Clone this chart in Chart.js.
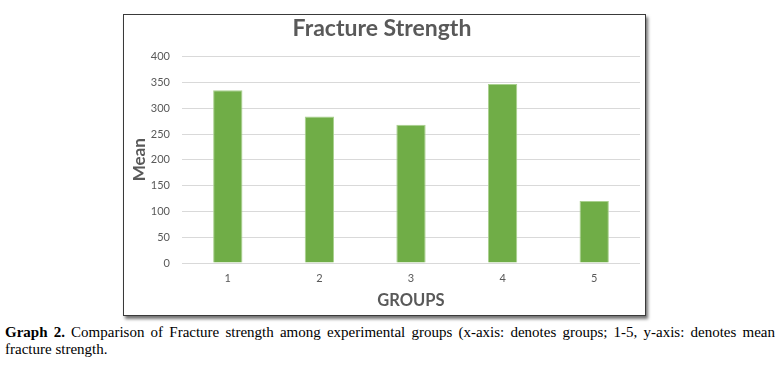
<!DOCTYPE html>
<html>
<head>
<meta charset="utf-8">
<script src="https://cdn.jsdelivr.net/npm/chart.js@4.4.0/dist/chart.umd.min.js"></script>
<style>
    body { margin: 0; background: #fff; width: 784px; height: 368px; position: relative; overflow: hidden; }
    #box {
        position: absolute; left: 123px; top: 14px; width: 521px; height: 300px;
        border: 1px solid #3a3a3a; background: #fff;
        box-shadow: 2px 3px 3px rgba(0, 0, 0, 0.55);
    }
    #caption {
        position: absolute; left: 5px; top: 324px; width: 770px;
        font-family: "Liberation Serif", serif; font-size: 15px; line-height: 17px;
        text-align: justify; color: #000;
    }
</style>
</head>
<body>
<div id="box"><canvas id="chart" width="521" height="300"></canvas></div>
<div id="caption"><b>Graph 2.</b> Comparison of Fracture strength among experimental groups (x-axis: denotes groups; 1-5, y-axis: denotes mean fracture strength.</div>
<script>
const groups = ['1', '2', '3', '4', '5'];
const meanStrength = [335, 284, 268, 347, 120];
const yTicks = [0, 50, 100, 150, 200, 250, 300, 350, 400];

const ctx = document.getElementById('chart').getContext('2d');
new Chart(ctx, {
    type: 'bar',
    data: {
        labels: groups,
        datasets: [{
            label: 'Mean',
            data: meanStrength,
            backgroundColor: '#70AD47',
            borderColor: '#A9D08E',
            borderWidth: 1,
            barPercentage: 0.32,
            categoryPercentage: 1
        }]
    },
    options: {
        responsive: false,
        animation: false,
        layout: { padding: { left: 0, right: 5, top: 0, bottom: 0 } },
        plugins: {
            legend: { display: false },
            tooltip: { enabled: false },
            title: {
                display: true,
                text: 'Fracture Strength',
                color: '#595959',
                font: { family: 'Lato', size: 23, weight: 'bold' },
                padding: { top: 0, bottom: 14 }
            }
        },
        scales: {
            x: {
                afterFit: axis => { axis.height = 52; },
                grid: { display: false, drawTicks: false },
                border: { display: false },
                ticks: { color: '#595959', font: { family: 'Lato', size: 11 }, padding: 9 },
                title: {
                    display: true,
                    text: 'GROUPS',
                    color: '#595959',
                    font: { family: 'Lato', size: 16.5, weight: 'bold' },
                    padding: { top: 2, bottom: 4 }
                }
            },
            y: {
                min: 0,
                max: 400,
                afterBuildTicks: axis => { axis.ticks = yTicks.map(v => ({ value: v })); },
                afterFit: axis => { axis.width = 58; },
                grid: { color: '#d9d9d9', lineWidth: 1, drawTicks: false },
                border: { display: false },
                ticks: { color: '#595959', font: { family: 'Lato', size: 11 }, padding: 12 },
                title: {
                    display: true,
                    text: 'Mean',
                    color: '#595959',
                    font: { family: 'Lato', size: 17, weight: 'bold' },
                    padding: { top: 5, bottom: 0 }
                }
            }
        }
    }
});
</script>
</body>
</html>
